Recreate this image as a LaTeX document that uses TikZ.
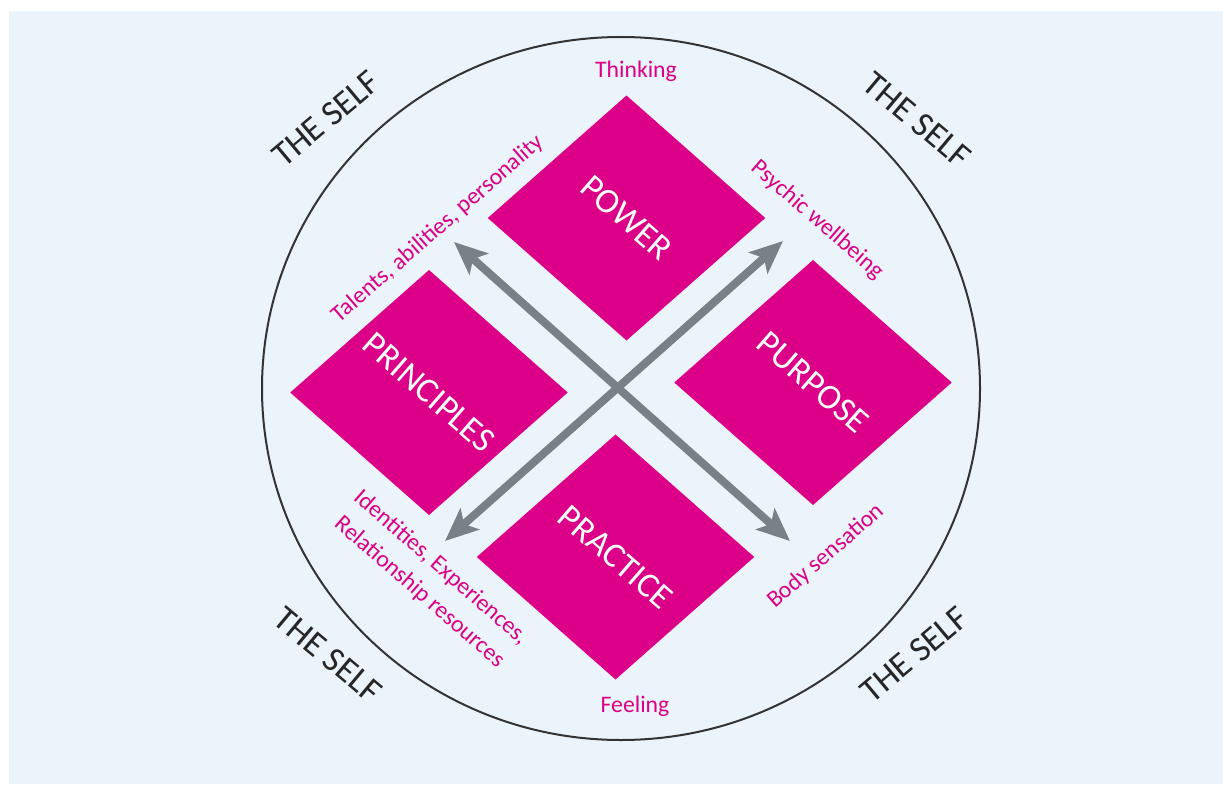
\documentclass[tikz,border=0pt]{standalone}
\usepackage{fontspec}
\setmainfont{Carlito}
\usetikzlibrary{shapes.geometric,arrows.meta}
\definecolor{selfbg}{HTML}{EBF3FB}
\definecolor{fourp}{HTML}{DB0087}
\definecolor{axisgrey}{HTML}{7A8087}

\begin{document}
\begin{tikzpicture}[x=0.02cm,y=-0.02cm,
	sq/.style={diamond,fill=fourp,inner sep=0pt,outer sep=0pt,minimum width=5.55cm,minimum height=4.9cm},
	sqtxt/.style={text=white,rotate=-41,font=\fontsize{20}{24}\selectfont},
	side/.style={text=fourp,align=center,font=\fontsize{13.5}{18.5}\selectfont},
	self/.style={text=black!85,font=\fontsize{20}{24}\selectfont},
	twoway/.style={draw=axisgrey,line width=0.16cm,
		{Stealth[length=0.66cm,width=0.56cm,inset=0.15cm]}-{Stealth[length=0.66cm,width=0.56cm,inset=0.15cm]}}]
	% page and panel
	\useasboundingbox (0,0) rectangle (1223,784);
	\fill[white] (0,0) rectangle (1223,784);
	\fill[selfbg] (9,11) rectangle (1223,784);
	\draw[black!80,line width=0.04cm] (621,388.5) ellipse [x radius=359,y radius=351.5];
	% the four squares
	\node(power)[sq] at (626.5,218) {};
	\node(principles)[sq] at (429,392.5) {};
	\node(purpose)[sq] at (813,382.5) {};
	\node(practice)[sq] at (615.5,557) {};
	\node[sqtxt] at (power) {POWER};
	\node[sqtxt] at (principles) {PRINCIPLES};
	\node[sqtxt] at (purpose) {PURPOSE};
	\node[sqtxt] at (practice) {PRACTICE};
	% axes
	\coordinate(nw) at (454,242);
	\coordinate(se) at (790,541);
	\coordinate(ne) at (783,241);
	\coordinate(sw) at (445,541);
	\draw[twoway] (nw) -- (se);
	\draw[twoway] (ne) -- (sw);
	% axis labels
	\node(think)[side] at (636,71) {Thinking};
	\node(feel)[side] at (635,706) {Feeling};
	\node(talent)[side,rotate=41] at (438,229) {Talents, abilities, personality};
	\node(psyche)[side,rotate=-41] at (817,220) {Psychic wellbeing};
	\node(body)[side,rotate=41] at (826,556) {Body sensation};
	\node(ident)[side,rotate=-41] at (430,580) {Identities, Experiences,\\Relationship resources};
	% the self, round the edge
	\node(selftl)[self,rotate=40] at (326,119) {THE SELF};
	\node(selftr)[self,rotate=-40] at (917,120) {THE SELF};
	\node(selfbl)[self,rotate=-40] at (328,655) {THE SELF};
	\node(selfbr)[self,rotate=40] at (914,655) {THE SELF};
\end{tikzpicture}
\end{document}
